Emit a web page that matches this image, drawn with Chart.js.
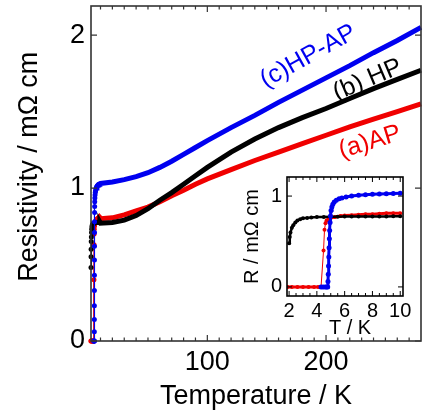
<!DOCTYPE html>
<html>
<head>
<meta charset="utf-8">
<script src="https://cdn.jsdelivr.net/npm/chart.js@4"></script>
<style>
  html, body { margin: 0; padding: 0; background: #fff; overflow: hidden; }
  #wrap { position: relative; width: 422px; height: 417px; overflow: hidden; }
  #mainBox { position: absolute; left: 0; top: 0; }
  #insetBox { position: absolute; left: 230px; top: 170px; }
  canvas { display: block; }
</style>
</head>
<body>
<div id="wrap">
  <div id="mainBox"><canvas id="main" width="425" height="417"></canvas></div>
  <div id="insetBox"><canvas id="inset" width="192" height="170"></canvas></div>
</div>
<script>
  // main panel temperatures (K) and resistivity (mOhm cm)
  const mainT = [10, 20, 30, 40, 50, 60, 70, 80, 90, 100, 120, 140, 160, 180, 200, 220, 240, 260, 280];
  const apR   = [0.80, 0.805, 0.825, 0.85, 0.875, 0.91, 0.95, 0.985, 1.025, 1.06, 1.12, 1.18, 1.235, 1.29, 1.345, 1.40, 1.45, 1.50, 1.55];
  const hpR   = [0.77, 0.775, 0.79, 0.82, 0.865, 0.92, 0.97, 1.025, 1.08, 1.135, 1.235, 1.32, 1.395, 1.46, 1.52, 1.585, 1.65, 1.71, 1.77];
  const hpapR = [1.03, 1.04, 1.055, 1.075, 1.10, 1.135, 1.175, 1.22, 1.265, 1.31, 1.395, 1.475, 1.56, 1.64, 1.72, 1.80, 1.885, 1.965, 2.05];

  // low temperature data (inset)
  const apLowT = [1.9, 2.2, 2.6, 3.0, 3.4, 3.8, 4.1, 4.3, 4.48, 4.55, 4.62, 4.7, 4.85, 5.0, 5.3, 5.7, 6.0, 6.5, 7.0, 7.5, 8.0, 8.5, 9.0, 9.5, 10.0];
  const apLowR = [0, 0, 0, 0, 0, 0, 0, 0, 0.40, 0.63, 0.70, 0.73, 0.75, 0.76, 0.77, 0.78, 0.785, 0.79, 0.795, 0.80, 0.80, 0.805, 0.81, 0.81, 0.81];
  const hpLowT = [2.0, 2.05, 2.1, 2.2, 2.3, 2.45, 2.6, 2.8, 3.0, 3.3, 3.6, 4.0, 4.5, 5.0, 5.5, 6.0, 6.5, 7.0, 7.5, 8.0, 8.5, 9.0, 9.5, 10.0];
  const hpLowR = [0.48, 0.55, 0.60, 0.65, 0.68, 0.71, 0.73, 0.745, 0.755, 0.76, 0.765, 0.77, 0.77, 0.772, 0.773, 0.774, 0.775, 0.775, 0.775, 0.776, 0.776, 0.776, 0.777, 0.777];
  const hpapLowT = [4.3, 4.45, 4.6, 4.7, 4.78, 4.8, 4.82, 4.84, 4.86, 4.88, 4.9, 4.92, 4.95, 4.98, 5.02, 5.08, 5.15, 5.25, 5.4, 5.6, 5.8, 6.1, 6.5, 7.0, 7.5, 8.0, 8.5, 9.0, 9.5, 10.0];
  const hpapLowR = [0, 0, 0, 0, 0, 0.06, 0.14, 0.23, 0.33, 0.43, 0.53, 0.62, 0.71, 0.78, 0.84, 0.88, 0.91, 0.935, 0.955, 0.97, 0.98, 0.99, 1.0, 1.01, 1.015, 1.02, 1.022, 1.025, 1.028, 1.03];

  const curveLabels = ['(c)HP-AP', '(b) HP', '(a)AP'];
  const curveColors = ['#0000f0', '#000000', '#f00000'];
  const mainXTicks = [100, 200];
  const mainYTicks = [0, 1, 2];
  const insetXTicks = [2, 4, 6, 8, 10];
  const insetYTicks = [0, 1];

  // where the curve labels sit (data coords) and their tilt
  const labelPlaces = [
    { t: 185, r: 1.86, angle: -29 },
    { t: 235, r: 1.706, angle: -23 },
    { t: 237, r: 1.30, angle: -17 }
  ];

  Chart.defaults.font.family = '"Liberation Sans", Arial, sans-serif';
  Chart.defaults.color = '#000';

  function pts(ts, rs) {
    return ts.map((t, i) => ({ x: t, y: rs[i] }));
  }

  function mainSeries(lowT, lowR, highR) {
    return pts(lowT, lowR).filter(p => p.x < 10).concat(pts(mainT, highR));
  }

  function range(a, b, step) {
    const out = [];
    for (let v = a; v <= b + 1e-9; v += step) out.push(Math.round(v * 100) / 100);
    return out;
  }

  // y axis: fixed width, no extra padding for half labels
  function fixY(width) {
    return s => { s.width = width; s.paddingTop = 0; s.paddingBottom = 0; };
  }

  const noGrid = { display: false, drawTicks: false };

  const framePlugin = {
    id: 'frame',
    afterDatasetsDraw(chart, args, o) {
      const { ctx, chartArea: a, scales: { x, y } } = chart;
      ctx.save();
      ctx.strokeStyle = o.color;
      ctx.lineWidth = o.width;
      ctx.strokeRect(a.left, a.top, a.right - a.left, a.bottom - a.top);
      ctx.beginPath();
      o.xMinor.forEach(v => {
        const px = x.getPixelForValue(v);
        const len = o.xMajor.includes(v) ? o.majorLen : o.minorLen;
        ctx.moveTo(px, a.bottom); ctx.lineTo(px, a.bottom - len);
        ctx.moveTo(px, a.top); ctx.lineTo(px, a.top + len);
      });
      o.yMajor.forEach(v => {
        const py = y.getPixelForValue(v);
        ctx.moveTo(a.left, py); ctx.lineTo(a.left + o.majorLen, py);
        ctx.moveTo(a.right, py); ctx.lineTo(a.right - o.majorLen, py);
      });
      ctx.lineWidth = o.tickWidth;
      ctx.stroke();
      ctx.restore();
    }
  };

  const labelPlugin = {
    id: 'curveLabels',
    afterDatasetsDraw(chart) {
      const { ctx, scales: { x, y } } = chart;
      curveLabels.forEach((text, i) => {
        const p = labelPlaces[i];
        ctx.save();
        ctx.translate(x.getPixelForValue(p.t), y.getPixelForValue(p.r));
        ctx.rotate(p.angle * Math.PI / 180);
        ctx.font = '25px "Liberation Sans", Arial, sans-serif';
        ctx.fillStyle = curveColors[i];
        ctx.textAlign = 'center';
        ctx.textBaseline = 'middle';
        ctx.fillText(text, 0, 0);
        ctx.restore();
      });
    }
  };

  const lowRadius = c => (c.raw && c.raw.x < 9.5 ? 2.5 : 0);
  const thinJump = c => (c.p0.parsed.x < 6 ? 1.2 : 5);

  new Chart(document.getElementById('main'), {
    type: 'line',
    data: {
      datasets: [
        { label: curveLabels[0], data: mainSeries(hpapLowT, hpapLowR, hpapR), borderColor: curveColors[0], backgroundColor: curveColors[0], borderWidth: 5, pointRadius: lowRadius, pointBorderWidth: 0, segment: { borderWidth: thinJump } },
        { label: curveLabels[1], data: mainSeries(hpLowT, hpLowR, hpR), borderColor: curveColors[1], backgroundColor: curveColors[1], borderWidth: 5, pointRadius: lowRadius, pointBorderWidth: 0, segment: { borderWidth: thinJump } },
        { label: curveLabels[2], data: mainSeries(apLowT, apLowR, apR), borderColor: curveColors[2], backgroundColor: curveColors[2], borderWidth: 5, pointRadius: lowRadius, pointBorderWidth: 0, segment: { borderWidth: thinJump } }
      ]
    },
    options: {
      responsive: false,
      animation: false,
      clip: false,
      layout: { padding: { top: 6, right: 1, left: 0, bottom: 0 } },
      plugins: {
        legend: { display: false },
        tooltip: { enabled: false },
        frame: { color: '#333', width: 1.6, tickWidth: 1.2, xMajor: mainXTicks, xMinor: range(10, 270, 10), yMajor: mainYTicks, majorLen: 6, minorLen: 3.5 }
      },
      scales: {
        x: {
          type: 'linear', min: 2, max: 280,
          afterFit: s => { s.height = 76; },
          afterBuildTicks: s => { s.ticks = mainXTicks.map(v => ({ value: v })); },
          grid: noGrid, border: { display: false },
          ticks: { font: { size: 27 }, padding: 5, maxRotation: 0, autoSkip: false },
          title: { display: true, text: 'Temperature / K', font: { size: 27 }, padding: { top: 0, bottom: 4 } }
        },
        y: {
          type: 'linear', min: 0, max: 2.19,
          afterFit: fixY(91),
          afterBuildTicks: s => { s.ticks = mainYTicks.map(v => ({ value: v })); },
          grid: noGrid, border: { display: false },
          ticks: { font: { size: 27 }, padding: 6 },
          title: { display: true, text: '\u2002Resistivity / mΩ cm', font: { size: 27 }, padding: { top: 13, bottom: 0 } }
        }
      }
    },
    plugins: [framePlugin, labelPlugin]
  });

  new Chart(document.getElementById('inset'), {
    type: 'line',
    data: {
      datasets: [
        { data: pts(hpapLowT, hpapLowR), borderColor: curveColors[0], backgroundColor: curveColors[0], borderWidth: 3, pointRadius: 2.5, pointBorderWidth: 0 },
        { data: pts(hpLowT, hpLowR), borderColor: curveColors[1], backgroundColor: curveColors[1], borderWidth: 2.5, pointRadius: 2, pointBorderWidth: 0 },
        { data: pts(apLowT, apLowR), borderColor: curveColors[2], backgroundColor: curveColors[2], borderWidth: 3, pointRadius: 2, pointBorderWidth: 0,
          segment: { borderWidth: c => (Math.abs(c.p1.parsed.y - c.p0.parsed.y) > 0.05 ? 1 : 3) } }
      ]
    },
    options: {
      responsive: false,
      animation: false,
      layout: { padding: { top: 7, right: 19, left: 0, bottom: 0 } },
      plugins: {
        legend: { display: false },
        tooltip: { enabled: false },
        frame: { color: '#000', width: 1.6, tickWidth: 1, xMajor: insetXTicks, xMinor: range(2, 10, 0.5), yMajor: insetYTicks, majorLen: 5, minorLen: 3 }
      },
      scales: {
        x: {
          type: 'linear', min: 1.85, max: 10.2,
          afterFit: s => { s.height = 44; },
          afterBuildTicks: s => { s.ticks = insetXTicks.map(v => ({ value: v })); },
          grid: noGrid, border: { display: false },
          ticks: { font: { size: 20 }, padding: 3, maxRotation: 0, autoSkip: false },
          title: { display: true, text: '\u2002T / K', font: { size: 20 }, padding: { top: 0, bottom: 0 } }
        },
        y: {
          type: 'linear', min: -0.1, max: 1.21,
          afterFit: fixY(57),
          afterBuildTicks: s => { s.ticks = insetYTicks.map(v => ({ value: v })); },
          grid: noGrid, border: { display: false },
          ticks: { font: { size: 20 }, padding: 5 },
          title: { display: true, text: 'R / mΩ cm', font: { size: 20 }, padding: { top: 10, bottom: 0 } }
        }
      }
    },
    plugins: [framePlugin]
  });
</script>
</body>
</html>
